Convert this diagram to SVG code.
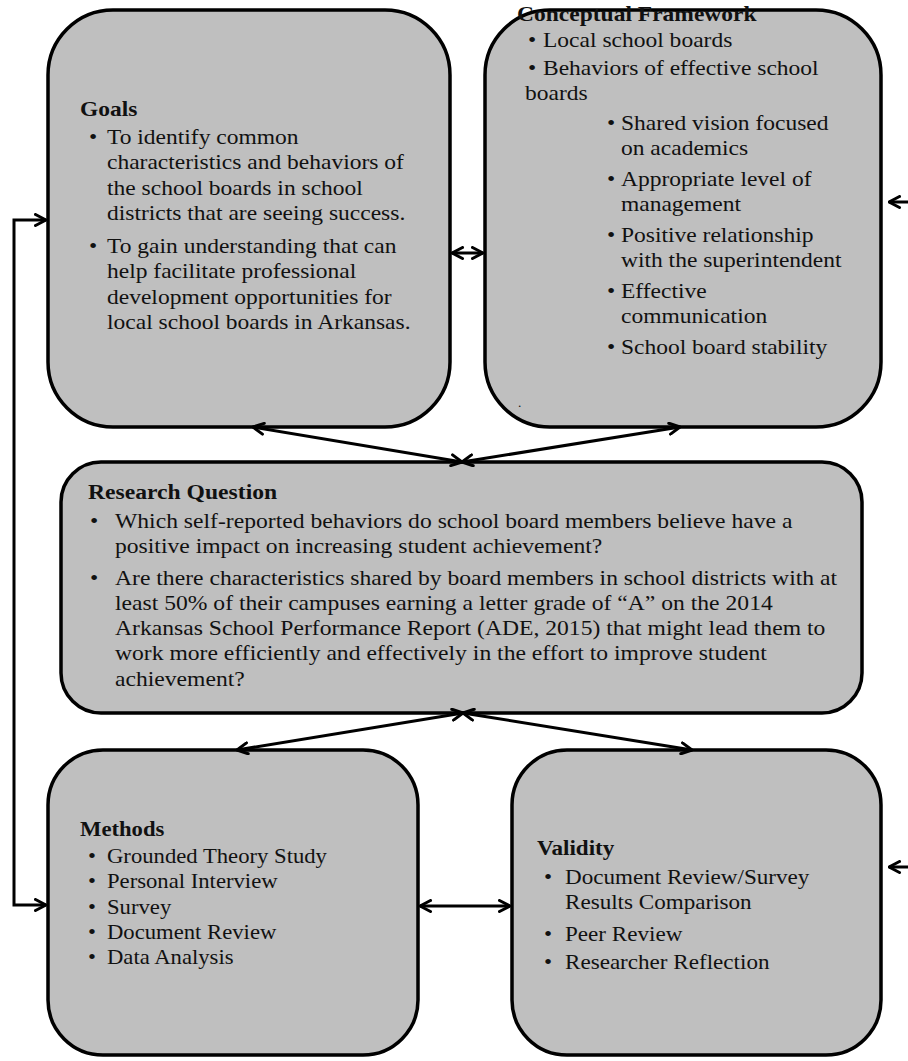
<svg xmlns="http://www.w3.org/2000/svg" width="908" height="1061" viewBox="0 0 908 1061">
<style>
.box{fill:#bfbfbf;stroke:#000;stroke-width:3.5}
text{font-family:"Liberation Serif","Times New Roman",serif;font-size:21px;fill:#111}
.t{font-weight:bold}
.c{fill:none;stroke:#000;stroke-width:3}
</style>
<defs>
<marker id="ah" viewBox="0 0 14 14" refX="12.5" refY="7" markerWidth="14" markerHeight="14" markerUnits="userSpaceOnUse" orient="auto-start-reverse">
<path d="M2,1.5 L12.5,7 L2,12.5" fill="none" stroke="#000" stroke-width="3" stroke-linecap="round" stroke-linejoin="round"/>
</marker>
</defs>
<rect width="908" height="1061" fill="#fff"/>
<g id="goals">
<rect class="box" x="48" y="10" width="402" height="417" rx="65"/>
<g transform="matrix(1.12 0 0 1 -12.84 0)">
<text class="t" x="82.9" y="116">Goals</text>
<text x="90.9" y="144">•</text><text x="107" y="144">To identify common</text>
<text x="107" y="169">characteristics and behaviors of</text>
<text x="107" y="195">the school boards in school</text>
<text x="107" y="220">districts that are seeing success.</text>
<text x="90.9" y="253">•</text><text x="107" y="253">To gain understanding that can</text>
<text x="107" y="278">help facilitate professional</text>
<text x="107" y="304">development opportunities for</text>
<text x="107" y="329">local school boards in Arkansas.</text>
</g>
</g>
<g id="framework">
<rect class="box" x="485" y="10" width="396" height="417" rx="65"/>
<g transform="matrix(1.12 0 0 1 -65.16 0)">
<text class="t" x="519.8" y="21">Conceptual Framework</text>
<text x="529.6" y="47">•</text><text x="543" y="47">Local school boards</text>
<text x="529.6" y="75">•</text><text x="543" y="75">Behaviors of effective school</text>
<text x="526.9" y="100">boards</text>
<text x="600.1" y="130">•</text><text x="612.6" y="130">Shared vision focused</text>
<text x="612.6" y="155">on academics</text>
<text x="600.1" y="186">•</text><text x="612.6" y="186">Appropriate level of</text>
<text x="612.6" y="211">management</text>
<text x="600.1" y="242">•</text><text x="612.6" y="242">Positive relationship</text>
<text x="612.6" y="267">with the superintendent</text>
<text x="600.1" y="298">•</text><text x="612.6" y="298">Effective</text>
<text x="612.6" y="323">communication</text>
<text x="600.1" y="354">•</text><text x="612.6" y="354">School board stability</text>
<text x="520.7" y="407" style="font-size:12px">.</text>
</g>
</g>
<g id="question">
<rect class="box" x="61" y="462" width="801" height="251" rx="40"/>
<g transform="matrix(1.125 0 0 1 -14.375 0)">
<text class="t" x="91" y="499">Research Question</text>
<text x="92.8" y="528">•</text><text x="115" y="528">Which self-reported behaviors do school board members believe have a</text>
<text x="115" y="553">positive impact on increasing student achievement?</text>
<text x="92.8" y="585">•</text><text x="115" y="585">Are there characteristics shared by board members in school districts with at</text>
<text x="115" y="610">least 50% of their campuses earning a letter grade of “A” on the 2014</text>
<text x="115" y="635">Arkansas School Performance Report (ADE, 2015) that might lead them to</text>
<text x="115" y="660">work more efficiently  and effectively in the effort to improve student</text>
<text x="115" y="686">achievement?</text>
</g>
</g>
<g id="methods">
<rect class="box" x="48" y="750" width="370" height="305" rx="55"/>
<g transform="matrix(1.08 0 0 1 -8.56 0)">
<text class="t" x="82" y="836">Methods</text>
<text x="89.4" y="863">•</text><text x="107" y="863">Grounded Theory Study</text>
<text x="89.4" y="888">•</text><text x="107" y="888">Personal Interview</text>
<text x="89.4" y="914">•</text><text x="107" y="914">Survey</text>
<text x="89.4" y="939">•</text><text x="107" y="939">Document Review</text>
<text x="89.4" y="964">•</text><text x="107" y="964">Data Analysis</text>
</g>
</g>
<g id="validity">
<rect class="box" x="512" y="750" width="369" height="305" rx="55"/>
<g transform="matrix(1.1 0 0 1 -56.5 0)">
<text class="t" x="539.5" y="855">Validity</text>
<text x="545.9" y="884">•</text><text x="565" y="884">Document Review/Survey</text>
<text x="565" y="909">Results Comparison</text>
<text x="545.9" y="941">•</text><text x="565" y="941">Peer Review</text>
<text x="545.9" y="969">•</text><text x="565" y="969">Researcher Reflection</text>
</g>
</g>
<g id="connectors">
<line class="c" x1="452" y1="253" x2="483" y2="253" marker-start="url(#ah)" marker-end="url(#ah)"/>
<line class="c" x1="253" y1="427" x2="462" y2="462" marker-start="url(#ah)" marker-end="url(#ah)"/>
<line class="c" x1="680" y1="427" x2="462" y2="462" marker-start="url(#ah)" marker-end="url(#ah)"/>
<line class="c" x1="463" y1="713" x2="237" y2="750" marker-start="url(#ah)" marker-end="url(#ah)"/>
<line class="c" x1="463" y1="713" x2="692" y2="750" marker-start="url(#ah)" marker-end="url(#ah)"/>
<line class="c" x1="420" y1="906" x2="510" y2="906" marker-start="url(#ah)" marker-end="url(#ah)"/>
<polyline class="c" points="46,220 14,220 14,905 46,905" marker-start="url(#ah)" marker-end="url(#ah)"/>
<line class="c" x1="910" y1="202" x2="889" y2="202" marker-end="url(#ah)"/>
<line class="c" x1="910" y1="867" x2="889" y2="867" marker-end="url(#ah)"/>
</g>
</svg>
